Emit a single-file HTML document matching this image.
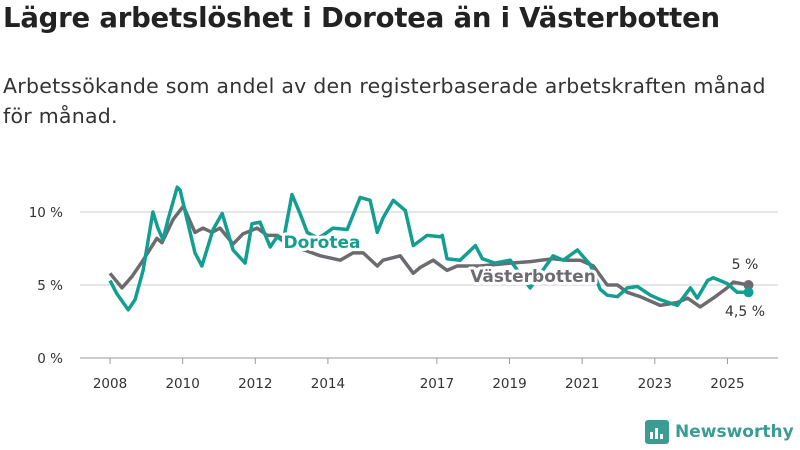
<!DOCTYPE html>
<html><head><meta charset="utf-8"><style>
body{margin:0;width:800px;height:450px;background:#fff;font-family:"DejaVu Sans","Liberation Sans",sans-serif;overflow:hidden;position:relative}
h1{position:absolute;left:3px;top:2px;margin:0;font-size:27.5px;font-weight:bold;color:#222;letter-spacing:-0.2px;white-space:nowrap}
p{position:absolute;left:3px;top:71px;margin:0;font-size:20.5px;letter-spacing:0.25px;color:#333;line-height:30px;width:790px}
svg{position:absolute;left:0;top:0}
</style></head><body>
<h1>Lägre arbetslöshet i Dorotea än i Västerbotten</h1>
<p>Arbetssökande som andel av den registerbaserade arbetskraften månad<br>för månad.</p>
<svg id="c" width="800" height="450"></svg>
<script>
const yTicks=[0,5,10];
const yTickLabels=["0 %","5 %","10 %"];
const xTicks=[2008,2010,2012,2014,2017,2019,2021,2023,2025];
const dorYears=[2008,2008.19,2008.5,2008.69,2008.91,2009.18,2009.32,2009.46,2009.6,2009.85,2009.93,2010.12,2010.34,2010.53,2010.84,2011.09,2011.39,2011.72,2011.91,2012.13,2012.41,2012.6,2012.77,2013.01,2013.23,2013.43,2013.73,2013.92,2014.14,2014.53,2014.89,2015.16,2015.36,2015.52,2015.8,2016.13,2016.35,2016.73,2017.09,2017.15,2017.28,2017.64,2018.06,2018.25,2018.6,2019.02,2019.57,2020.2,2020.48,2020.87,2021.22,2021.5,2021.69,2021.97,2022.24,2022.52,2022.88,2023.15,2023.62,2023.98,2024.17,2024.45,2024.61,2024.99,2025.27,2025.58];
const dorValues=[5.3,4.4,3.3,4.0,6.0,10.0,8.9,8.1,9.5,11.7,11.5,9.5,7.2,6.3,8.8,9.9,7.4,6.5,9.2,9.3,7.6,8.3,8.0,11.2,9.9,8.6,8.2,8.5,8.9,8.8,11.0,10.8,8.6,9.6,10.8,10.1,7.7,8.4,8.3,8.4,6.8,6.7,7.7,6.8,6.5,6.7,4.8,7.0,6.7,7.4,6.4,4.7,4.3,4.2,4.8,4.9,4.3,4.0,3.6,4.8,4.1,5.3,5.5,5.1,4.5,4.5];
const vbYears=[2008,2008.33,2008.61,2008.91,2009.29,2009.43,2009.74,2010.02,2010.34,2010.56,2010.81,2011.03,2011.39,2011.66,2012.05,2012.33,2012.6,2013.23,2013.79,2014.34,2014.69,2014.97,2015.36,2015.52,2015.99,2016.35,2016.54,2016.9,2017.28,2017.56,2018.19,2019.02,2019.57,2020.2,2020.59,2020.95,2021.31,2021.69,2021.97,2022.24,2022.6,2023.15,2023.62,2023.9,2024.25,2024.61,2024.99,2025.16,2025.58];
const vbValues=[5.8,4.8,5.6,6.7,8.2,7.9,9.5,10.4,8.6,8.9,8.6,8.9,7.8,8.5,8.9,8.4,8.4,7.5,7.0,6.7,7.2,7.2,6.3,6.7,7.0,5.8,6.2,6.7,6.0,6.3,6.3,6.5,6.6,6.8,6.7,6.7,6.3,5.0,5.0,4.5,4.2,3.6,3.8,4.1,3.5,4.1,4.8,5.2,5.0];
const NS="http://www.w3.org/2000/svg";
const svg=document.getElementById('c');
const x=t=>110+(t-2008)*36.32;
const y=v=>358-v*14.6;
function mk(tag,attrs,parent){const e=document.createElementNS(NS,tag);for(const k in attrs)e.setAttribute(k,attrs[k]);(parent||svg).appendChild(e);return e;}
yTicks.forEach((v,i)=>{
 const l=mk('line',{x1:80,x2:778,y1:y(v),y2:y(v),stroke:v===0?'#bbb':'#ddd','stroke-width':1.5});
 
 
 const t=mk('text',{x:63,y:y(v)+5,'text-anchor':'end','font-size':13.5,fill:'#333'});
 t.textContent=yTickLabels[i];
 
 
});
xTicks.forEach(yr=>{
 const tk=mk('line',{x1:x(yr),x2:x(yr),y1:358,y2:364,stroke:'#999','stroke-width':1});
 
 
 const t=mk('text',{x:x(yr),y:388,'text-anchor':'middle','font-size':13.5,fill:'#333'});
 t.textContent=yr;
 
 
});
function line(ys,vs,col,name){
 const d=ys.map((t,i)=>(i?'L':'M')+x(t).toFixed(1)+','+y(vs[i]).toFixed(1)).join('');
 const p=mk('path',{d:d,fill:'none',stroke:col,'stroke-width':3.5,'stroke-linejoin':'round'});
 
 
 const n=ys.length-1;
 const c=mk('circle',{cx:x(ys[n]),cy:y(vs[n]),r:5,fill:col});
 
 
}
line(vbYears,vbValues,'#6d6b70','vasterbotten-line');
line(dorYears,dorValues,'#139e92','dorotea-line');
function lab(txt,xx,yy,col,name,size,bold,halo){
 const t=mk('text',{x:xx,y:yy,'font-size':size,fill:col,'font-weight':bold?'bold':'normal','text-anchor':'middle'});
 if(halo){t.setAttribute('stroke','#fff');t.setAttribute('stroke-width',6);t.setAttribute('paint-order','stroke');t.setAttribute('stroke-linejoin','round');}
 t.textContent=txt;
 
 
}
lab('Dorotea',322,248,'#139e92','dorotea-label',17,true,true);
lab('Västerbotten',533,282,'#6d6b70','vasterbotten-label',17,true,true);
lab('5 %',745,269,'#333','vasterbotten-end-value',14,false,false);
lab('4,5 %',745,316,'#333','dorotea-end-value',14,false,false);
</script>
<div style="position:absolute;left:645px;top:420px;display:flex;align-items:center;gap:6px">
 <div style="width:24px;height:24px;background:#3a9c93;border-radius:3px;position:relative">
  <div style="position:absolute;left:5px;bottom:5px;width:3px;height:7px;background:#fff"></div>
  <div style="position:absolute;left:10px;bottom:5px;width:3px;height:11px;background:#fff"></div>
  <div style="position:absolute;left:15px;bottom:5px;width:3px;height:5px;background:#fff"></div>
 </div>
 <span style="font-size:17px;font-weight:bold;color:#3a9c93">Newsworthy</span>
</div>
</body></html>
